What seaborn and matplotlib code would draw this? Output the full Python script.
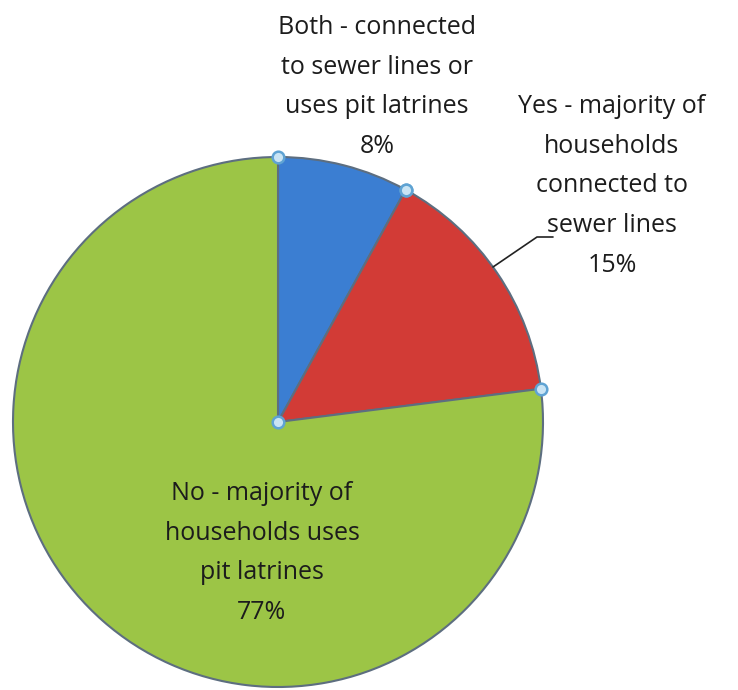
import numpy as np
import matplotlib
matplotlib.use('Agg')
import matplotlib.pyplot as plt
import seaborn as sns

labels = ['Both - connected\nto sewer lines or\nuses pit latrines',
          'Yes - majority of\nhouseholds\nconnected to\nsewer lines',
          'No - majority of\nhouseholds uses\npit latrines']
shares = [8, 15, 77]
colors = ['#3b7ed2', '#d23b36', '#9cc546']

sns.set_theme(style='white')
plt.rcParams['font.family'] = ['Open Sans', 'DejaVu Sans']

fig = plt.figure(figsize=(7.38, 6.90), dpi=100)
ax = fig.add_axes([0, 0, 1, 1])

center = (278, 268)
radius = 265
wedges, _ = ax.pie(shares, colors=colors, startangle=90, counterclock=False,
                   center=center, radius=radius, frame=True,
                   wedgeprops=dict(edgecolor='#5d6e80', linewidth=1.5))
ax.set_xlim(0, 738)
ax.set_ylim(0, 690)
ax.set_aspect('equal')
ax.axis('off')

# selection handles at wedge corners
pts = [center]
for w in wedges[:2]:
    for th in (w.theta1, w.theta2):
        pts.append((center[0] + radius * np.cos(np.radians(th)),
                    center[1] + radius * np.sin(np.radians(th))))
pts = np.array(pts)
ax.scatter(pts[:, 0], pts[:, 1], s=70, color='#c9e4f4', edgecolor='#5fa3d3',
           linewidth=1.8, zorder=5)

txt = dict(ha='center', va='center', fontsize=18, color='#1c1c1c', linespacing=1.78)
ax.text(377, 690 - 87, f'{labels[0]}\n{shares[0]}%', **txt)
ax.text(612, 690 - 186, f'{labels[1]}\n{shares[1]}%', **txt)
ax.text(262, 690 - 553, f'{labels[2]}\n{shares[2]}%', **txt)

# leader line for the 15% label
ax.plot([493, 537, 553], [690 - 267, 690 - 237, 690 - 237], color='#222222', linewidth=1.2)

fig.savefig('out.png', dpi=100)
